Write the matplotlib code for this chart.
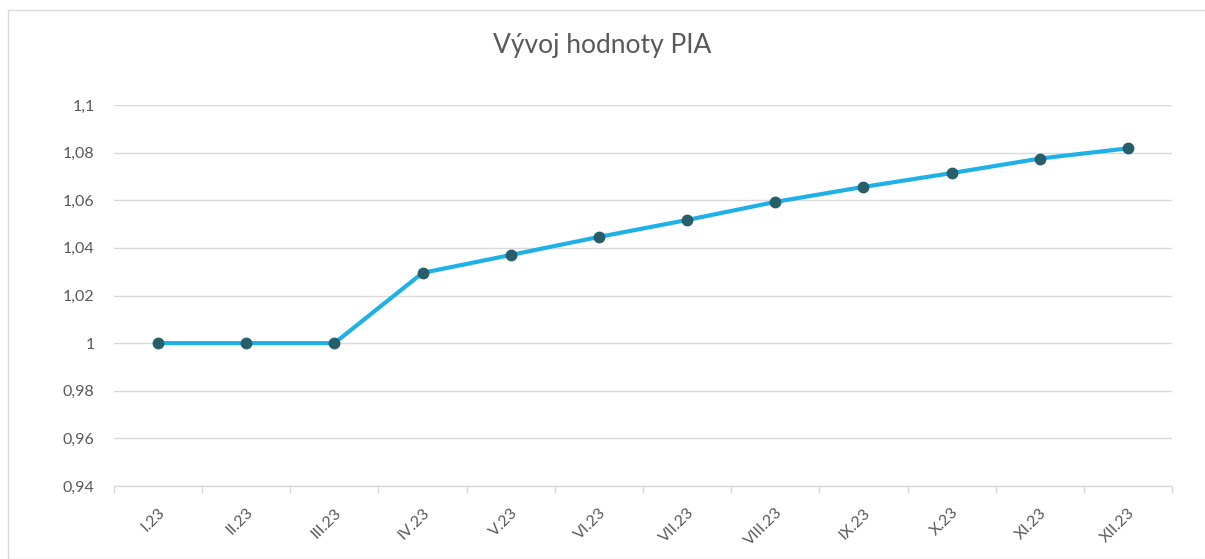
import matplotlib
matplotlib.use("Agg")
import matplotlib.pyplot as plt
from matplotlib.patches import Rectangle
from matplotlib.ticker import FixedLocator, FuncFormatter

months = ["I.23", "II.23", "III.23", "IV.23", "V.23", "VI.23",
          "VII.23", "VIII.23", "IX.23", "X.23", "XI.23", "XII.23"]
pia = [1.0, 1.0, 1.0, 1.0295, 1.037, 1.0446, 1.0517, 1.0593, 1.0656, 1.0714, 1.0775, 1.0818]
yticks = [0.94, 0.96, 0.98, 1.0, 1.02, 1.04, 1.06, 1.08, 1.1]

plt.rcParams['font.family'] = ['Lato', 'DejaVu Sans']
text_col = '#595959'
grid_col = '#d9d9d9'

fig = plt.figure(figsize=(12.05, 5.59), dpi=100)
fig.patches.append(Rectangle((8/1205, 0), 1.0, 1 - 10/559, transform=fig.transFigure,
                             fill=False, edgecolor=grid_col, linewidth=1))
ax = fig.add_axes([114/1205, 1 - 486/559, (1172-114)/1205, (486-105)/559])

x = list(range(len(months)))
ax.plot(x, pia, color='#1fb1e6', linewidth=3, zorder=3)
ax.plot(x, pia, linestyle='none', marker='o', markersize=7.5,
        markerfacecolor='#265f6b', markeredgecolor='#265f6b', zorder=4)

ax.set_xlim(-0.5, len(months) - 0.5)
ax.set_ylim(0.94, 1.1)
ax.set_yticks(yticks)
ax.yaxis.set_major_formatter(FuncFormatter(lambda v, p: f"{v:.2f}".rstrip('0').rstrip('.').replace('.', ',')))
ax.grid(axis='y', color=grid_col, linewidth=1)
ax.set_axisbelow(True)

ax.set_xticks(x)
ax.set_xticklabels(months, rotation=45, ha='right', rotation_mode='anchor')
ax.xaxis.set_minor_locator(FixedLocator([i - 0.5 for i in range(len(months) + 1)]))
ax.tick_params(axis='x', which='major', length=0, pad=14, labelsize=11.5, labelcolor=text_col)
ax.tick_params(axis='x', which='minor', length=5, color=grid_col, width=1)
ax.tick_params(axis='y', length=0, pad=14, labelsize=11.5, labelcolor=text_col)

for s in ['top', 'right', 'left']:
    ax.spines[s].set_visible(False)
ax.spines['bottom'].set_color(grid_col)
ax.spines['bottom'].set_linewidth(1)

fig.text(0.5, 1 - 45/559, "Vývoj hodnoty PIA", ha='center', va='center',
         fontsize=19, color=text_col)

fig.savefig("out.png", dpi=100)
